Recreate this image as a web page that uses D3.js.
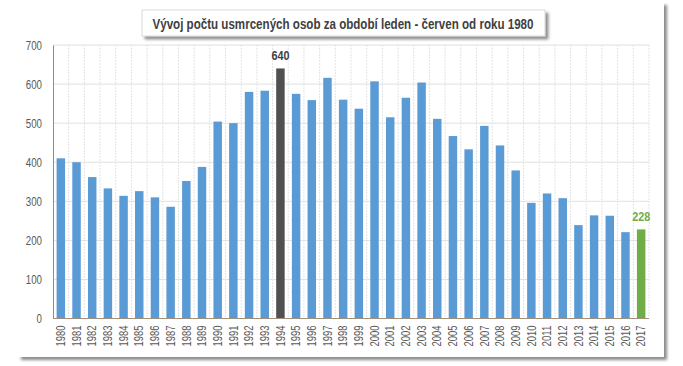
<!DOCTYPE html>
<html><head><meta charset="utf-8">
<script src="https://cdn.jsdelivr.net/npm/d3@7"></script>
<style>
body{margin:0;background:#fff;}
svg{display:block;}
</style></head>
<body>
<svg id="chart" width="683" height="366"></svg>
<script>
const years = ["1980","1981","1982","1983","1984","1985","1986","1987","1988","1989","1990","1991","1992","1993","1994","1995","1996","1997","1998","1999","2000","2001","2002","2003","2004","2005","2006","2007","2008","2009","2010","2011","2012","2013","2014","2015","2016","2017"];
const deaths = [410,400,362,333,314,326,310,286,352,388,504,500,580,583,640,575,559,616,560,537,607,515,565,604,511,467,433,493,443,379,296,320,308,239,264,263,221,228];
const yTicks = [0,100,200,300,400,500,600,700];
const title = "Vývoj počtu usmrcených osob za období leden - červen od roku 1980";
const maxYear = "1994";
const lastYear = "2017";

const svg = d3.select("#chart");
const font = "'Liberation Sans Narrow','Arial Narrow','Liberation Sans',sans-serif";

const defs = svg.append("defs");
const f = defs.append("filter").attr("id","sh").attr("x","-5%").attr("y","-5%").attr("width","115%").attr("height","125%");
f.append("feDropShadow").attr("dx",3).attr("dy",3).attr("stdDeviation",1.5).attr("flood-color","#000").attr("flood-opacity",0.45);

// card
svg.append("rect").attr("x",18).attr("y",2).attr("width",646).attr("height",355)
  .attr("fill","#fff").attr("filter","url(#sh)");

const m = {left:53, right:649, top:45, bottom:318.5};
const x = d3.scaleBand().domain(years).range([m.left,m.right]).paddingInner(0.46).paddingOuter(0.23);
const y = d3.scaleLinear().domain([0,700]).range([m.bottom,m.top]);

// horizontal grid
svg.append("g").selectAll("line").data(yTicks.slice(1)).join("line")
  .attr("x1",m.left).attr("x2",m.right).attr("y1",d=>y(d)).attr("y2",d=>y(d))
  .attr("stroke","#e0e0e0").attr("stroke-width",1);
// vertical grid between categories
const step = x.step();
svg.append("g").selectAll("line").data(years).join("line")
  .attr("x1",(d,i)=>m.left+step*(i+1)).attr("x2",(d,i)=>m.left+step*(i+1))
  .attr("y1",m.top).attr("y2",m.bottom)
  .attr("stroke","#e3e3e3").attr("stroke-width",1).attr("stroke-dasharray","2,1");

// bars
svg.append("g").selectAll("rect").data(years).join("rect")
  .attr("x",d=>x(d)).attr("width",x.bandwidth())
  .attr("y",(d,i)=>y(deaths[i])).attr("height",(d,i)=>y(0)-y(deaths[i]))
  .attr("fill",d=>d===maxYear?"#505050":(d===lastYear?"#70AD47":"#5B9BD5"));

// axes
const yAxis = svg.append("g").attr("transform",`translate(${m.left},0)`)
  .call(d3.axisLeft(y).tickValues(yTicks).tickSize(0).tickPadding(11));
yAxis.select(".domain").attr("stroke","#8c8c8c");
yAxis.selectAll("text").attr("font-family",font).attr("font-size",12.5).attr("fill","#595959")
  .attr("textLength",d=>String(d).length*5.4).attr("lengthAdjust","spacingAndGlyphs");

const xAxis = svg.append("g").attr("transform",`translate(0,${m.bottom})`)
  .call(d3.axisBottom(x).tickSize(0));
xAxis.select(".domain").attr("stroke","#a09080").attr("d",`M${m.left},0H${m.right}`);
xAxis.selectAll("text").attr("font-family",font).attr("font-size",12).attr("fill","#595959")
  .attr("transform","rotate(-90)").attr("text-anchor","end").attr("dx","-7").attr("dy","0.35em").attr("y",0).attr("x",0)
  .attr("textLength",21).attr("lengthAdjust","spacingAndGlyphs");

// value labels
const iMax = years.indexOf(maxYear), iLast = years.indexOf(lastYear);
svg.append("text").attr("x",x(maxYear)+x.bandwidth()/2).attr("y",y(deaths[iMax])-8)
  .attr("text-anchor","middle").attr("font-family",font).attr("font-weight","bold").attr("font-size",12.5)
  .attr("fill","#404040").attr("textLength",18).attr("lengthAdjust","spacingAndGlyphs").text(deaths[iMax]);
svg.append("text").attr("x",x(lastYear)+x.bandwidth()/2).attr("y",y(deaths[iLast])-8)
  .attr("text-anchor","middle").attr("font-family",font).attr("font-weight","bold").attr("font-size",12.5)
  .attr("fill","#70AD47").attr("textLength",18).attr("lengthAdjust","spacingAndGlyphs").text(deaths[iLast]);

// title box
svg.append("rect").attr("x",142).attr("y",10).attr("width",403).attr("height",26)
  .attr("fill","#fff").attr("stroke","#d0d0d0").attr("stroke-width",0.8).attr("filter","url(#sh)");
svg.append("text").attr("x",343).attr("y",28.5).attr("text-anchor","middle")
  .attr("font-family",font).attr("font-weight","bold").attr("font-size",15).attr("fill","#404040")
  .attr("textLength",381).attr("lengthAdjust","spacingAndGlyphs")
  .text(title);
</script>
</body></html>
